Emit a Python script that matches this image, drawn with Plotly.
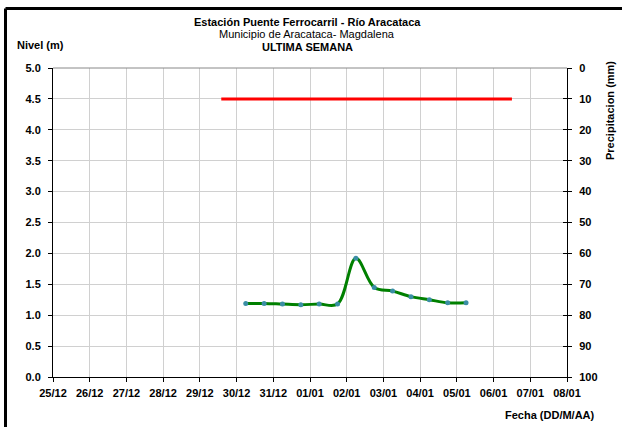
import plotly.graph_objects as go

# ---- data ----
times = ["2010-12-30 06:00", "2010-12-30 18:00", "2010-12-31 06:00", "2010-12-31 18:00",
         "2011-01-01 06:00", "2011-01-01 18:00", "2011-01-02 06:00", "2011-01-02 18:00",
         "2011-01-03 06:00", "2011-01-03 18:00", "2011-01-04 06:00", "2011-01-04 18:00",
         "2011-01-05 06:00"]
levels = [1.19, 1.19, 1.18, 1.17, 1.18, 1.18, 1.92, 1.45, 1.39, 1.30, 1.25, 1.20, 1.20]
thr_x = ["2010-12-29 14:00", "2011-01-06 12:00"]
thr_y = [4.5, 4.5]
x_range = ["2010-12-25", "2011-01-08"]
title1 = "Estación Puente Ferrocarril - Río Aracataca"
title2 = "Municipio de Aracataca- Magdalena"
title3 = "ULTIMA SEMANA"

W, H = 622, 427
L, R, T, B = 53, 55, 68, 50
PW, PH = W - L - R, H - T - B


def px(x):
    return (x - L) / PW


def py(y):
    return (H - B - y) / PH


FONT = "Liberation Sans, Arial, sans-serif"

fig = go.Figure()
fig.add_trace(go.Scatter(x=thr_x, y=thr_y, mode="lines",
                         line=dict(color="#ff0000", width=3), showlegend=False))
fig.add_trace(go.Scatter(x=times, y=levels, mode="lines+markers",
                         line=dict(color="#008000", width=3, shape="spline", smoothing=1),
                         marker=dict(color="#3b8ea5", size=5), showlegend=False))

fig.update_layout(
    width=W, height=H,
    margin=dict(l=L, r=R, t=T, b=B, pad=0),
    paper_bgcolor="white", plot_bgcolor="white",
    font=dict(family=FONT, size=11, color="black"),
    xaxis=dict(type="date", range=x_range, tick0=x_range[0], dtick=86400000,
               tickformat="%d/%m", showgrid=True, gridcolor="#d0d0d0", gridwidth=1,
               showline=True, linecolor="black", linewidth=1,
               ticks="outside", ticklen=4, tickcolor="black", ticklabelstandoff=2,
               tickfont=dict(family=FONT, size=11, weight="bold"), zeroline=False),
    yaxis=dict(range=[0, 5], dtick=0.5, tickformat=".1f", showgrid=True,
               gridcolor="#d0d0d0", gridwidth=1, showline=True, linecolor="black",
               linewidth=1, ticks="outside", ticklen=4, tickcolor="black",
               ticklabelstandoff=5,
               tickfont=dict(family=FONT, size=11, weight="bold"), zeroline=False),
    yaxis2=dict(range=[100, 0], dtick=10, overlaying="y", side="right",
                showgrid=False, showline=True, linecolor="black", linewidth=1,
                ticks="outside", ticklen=4, tickcolor="black", ticklabelstandoff=5,
                tickfont=dict(family=FONT, size=11, weight="bold"), zeroline=False),
    yaxis3=dict(range=[100, 0], dtick=10, overlaying="y", side="right",
                showgrid=False, showline=False, ticks="inside", ticklen=4,
                tickcolor="black", showticklabels=False, zeroline=False),
)

# invisible traces to keep the right axes active
fig.add_trace(go.Scatter(x=[x_range[0]], y=[0], yaxis="y2", mode="markers",
                         marker=dict(opacity=0), showlegend=False, hoverinfo="skip"))
fig.add_trace(go.Scatter(x=[x_range[0]], y=[0], yaxis="y3", mode="markers",
                         marker=dict(opacity=0), showlegend=False, hoverinfo="skip"))

shapes = [
    dict(type="line", xref="paper", yref="paper", x0=0, x1=1, y0=1, y1=1,
         line=dict(color="#888888", width=1)),
    dict(type="line", xref="paper", yref="paper", x0=px(5.5), x1=px(640),
         y0=py(8.5), y1=py(8.5), line=dict(color="black", width=3)),
    dict(type="line", xref="paper", yref="paper", x0=px(5.5), x1=px(5.5),
         y0=py(8.5), y1=py(440), line=dict(color="black", width=3)),
]
fig.update_layout(shapes=shapes)

ann = [
    dict(text=f"<b>{title1}</b>", x=px(307), y=py(22.5)),
    dict(text=title2, x=px(307), y=py(33.5)),
    dict(text=f"<b>{title3}</b>", x=px(307), y=py(46.5)),
]
annotations = []
for a in ann:
    annotations.append(dict(xref="paper", yref="paper", showarrow=False,
                            xanchor="center", yanchor="middle",
                            font=dict(family=FONT, size=11, color="black"), **a))
annotations.append(dict(text="<b>Nivel (m)</b>", xref="paper", yref="paper",
                        x=px(15), y=py(45), xanchor="left", yanchor="middle",
                        showarrow=False, font=dict(family=FONT, size=11)))
annotations.append(dict(text="<b>Fecha (DD/M/AA)</b>", xref="paper", yref="paper",
                        x=px(597), y=py(415), xanchor="right", yanchor="middle",
                        showarrow=False, font=dict(family=FONT, size=11)))
annotations.append(dict(text="<b>Precipitacion (mm)</b>", xref="paper", yref="paper",
                        x=px(610), y=py(111), xanchor="center", yanchor="middle",
                        textangle=-90, showarrow=False, font=dict(family=FONT, size=11)))
fig.update_layout(annotations=annotations)

fig.write_html("out.html", config={"displayModeBar": False},
               post_script="document.body.style.margin='0';document.body.style.overflow='hidden';")
